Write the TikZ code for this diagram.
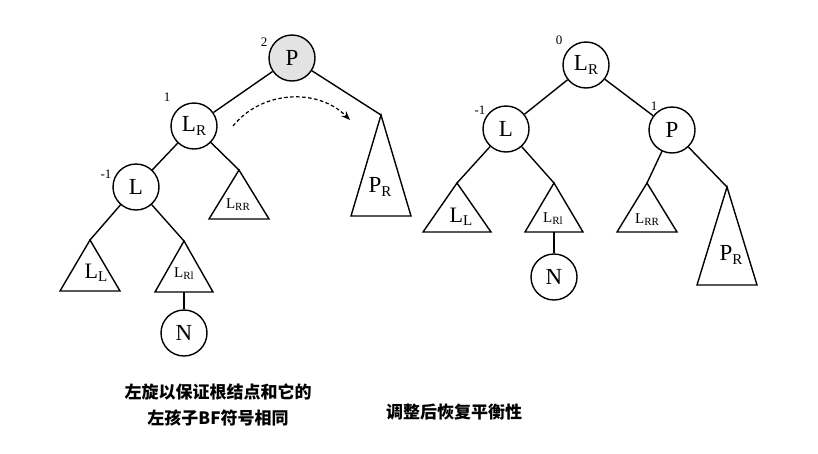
\documentclass[tikz,border=0pt]{standalone}
\usepackage{fontspec}
\setmainfont{Liberation Serif}
\newfontfamily\cjk{Noto Sans CJK SC}
\usetikzlibrary{arrows.meta}
\newcommand\subl[3]{#1\raisebox{-0.3ex}{\fontsize{#3}{#3}\selectfont #2}}
\tikzset{
  nd/.style={draw, circle, minimum size=46pt, inner sep=0pt, line width=1.4pt, font=\fontsize{23}{23}\selectfont},
  edge/.style={line width=1.4pt},
  tri/.style={draw, line width=1.4pt, line join=miter},
  bf/.style={font=\fontsize{13}{13}\selectfont, inner sep=0pt},
  tlab/.style={inner sep=0pt},
  captxt/.style={font=\cjk\bfseries\fontsize{17}{17}\selectfont, inner sep=0pt}
}
\newcommand\subtree[5]{% name, apex x, apex y, half width, base y
  \coordinate (#1) at (#2,#3);
  \draw[tri] (#1) -- (#2-#4,#5) -- (#2+#4,#5) -- cycle;
  \coordinate (#1b) at (#2,#5);
}
\begin{document}
\begin{tikzpicture}[x=1pt,y=-1pt]
\useasboundingbox (0,0) rectangle (818,453);
% ---------- left tree ----------
\node[nd, fill=gray!22] (P) at (292,58) {P};
\node[nd] (LR) at (194,126) {\subl{L}{R}{15}};
\node[nd] (L) at (136,187) {L};
\node[nd] (N) at (184,333) {N};
\subtree{LRR}{239}{170}{30}{219}
\subtree{PR}{381}{115}{30}{216}
\subtree{LL}{90}{240}{30}{291}
\subtree{LRl}{184}{241}{29}{292}
\node[tlab, font=\fontsize{15}{15}\selectfont] (tLRR) at (238,205) {\subl{L}{RR}{11}};
\node[tlab, font=\fontsize{23}{23}\selectfont] (tPR) at (380,187) {\subl{P}{R}{15}};
\node[tlab, font=\fontsize{22}{22}\selectfont] (tLL) at (96,273) {\subl{L}{L}{15}};
\node[tlab, font=\fontsize{15}{15}\selectfont] (tLRl) at (184,274) {\subl{L}{Rl}{11}};
\draw[edge] (P) -- (LR);
\draw[edge] (P) -- (PR);
\draw[edge] (LR) -- (L);
\draw[edge] (LR) -- (LRR);
\draw[edge] (L) -- (LL);
\draw[edge] (L) -- (LRl);
\draw[edge] (LRlb) -- (N);
\node[bf] (b1) at (264,42) {2};
\node[bf] (b2) at (167,97) {1};
\node[bf] (b3) at (106,174) {-1};
\coordinate (as) at (233,126);
\coordinate (ae) at (350,120);
\draw[line width=1.2pt, dash pattern=on 3.5pt off 2.5pt, -{Stealth[length=9pt,width=7pt]}] (as) .. controls (262,90) and (318,88) .. (ae);
% ---------- right tree ----------
\node[nd] (LR2) at (586,65) {\subl{L}{R}{15}};
\node[nd] (L2) at (506,129) {L};
\node[nd] (P2) at (672,130) {P};
\node[nd] (N2) at (554,277) {N};
\subtree{LL2}{457}{183}{34}{232}
\subtree{LRl2}{554}{183}{29}{232}
\subtree{LRR2}{647}{183}{30}{232}
\subtree{PR2}{727}{187}{30}{285}
\node[tlab, font=\fontsize{22}{22}\selectfont] (tLL2) at (461,217) {\subl{L}{L}{15}};
\node[tlab, font=\fontsize{15}{15}\selectfont] (tLRl2) at (553,219) {\subl{L}{Rl}{11}};
\node[tlab, font=\fontsize{15}{15}\selectfont] (tLRR2) at (647,220) {\subl{L}{RR}{11}};
\node[tlab, font=\fontsize{23}{23}\selectfont] (tPR2) at (731,255) {\subl{P}{R}{15}};
\draw[edge] (LR2) -- (L2);
\draw[edge] (LR2) -- (P2);
\draw[edge] (L2) -- (LL2);
\draw[edge] (L2) -- (LRl2);
\draw[edge] (P2) -- (LRR2);
\draw[edge] (P2) -- (PR2);
\draw[edge] (LRl2b) -- (N2);
\node[bf] (c1) at (559,40) {0};
\node[bf] (c2) at (480,110) {-1};
\node[bf] (c3) at (654,106) {1};
% ---------- captions ----------
\node[captxt] (t1) at (218,392) {左旋以保证根结点和它的};
\node[captxt] (t2) at (218,418) {左孩子BF符号相同};
\node[captxt] (t3) at (454,412) {调整后恢复平衡性};
\end{tikzpicture}
\end{document}
